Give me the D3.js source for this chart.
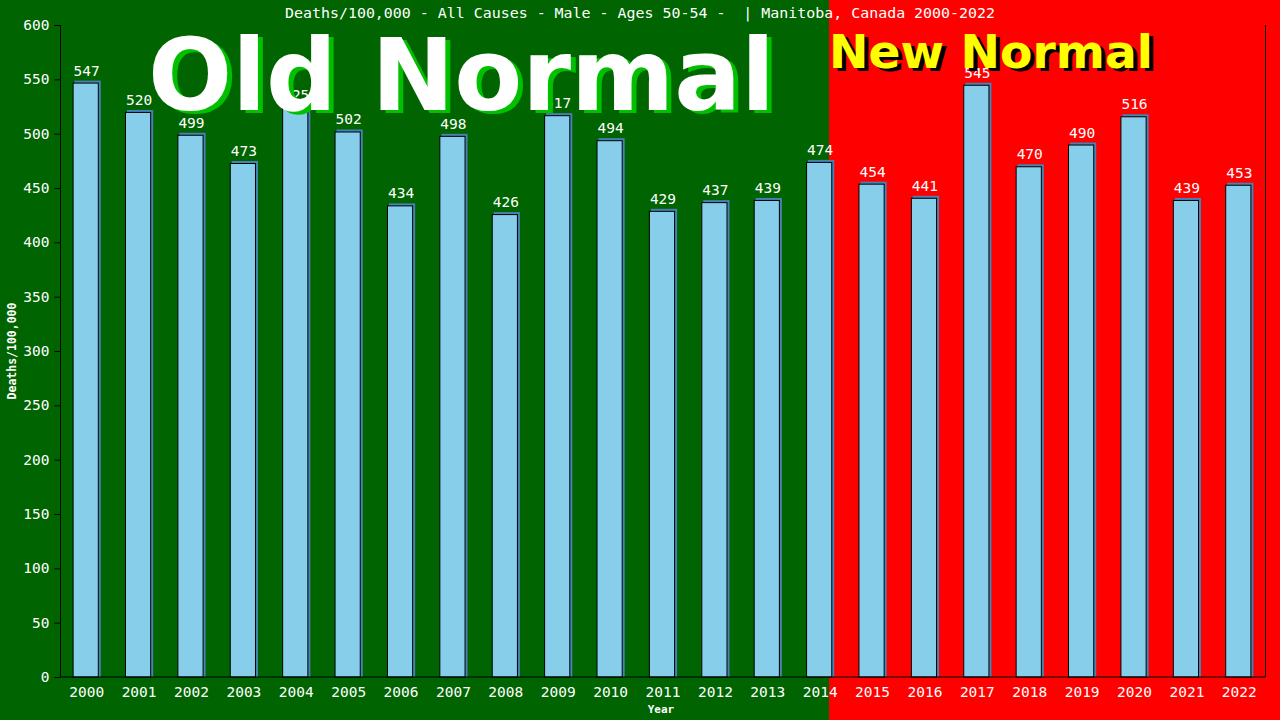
<!DOCTYPE html>
<html><head><meta charset="utf-8">
<script src="https://cdn.jsdelivr.net/npm/d3@7/dist/d3.min.js"></script>
<style>html,body{margin:0;padding:0;background:#000;}svg{display:block;}</style>
</head><body>
<svg id="c" width="1280" height="720"></svg>
<script>
const years = ["2000","2001","2002","2003","2004","2005","2006","2007","2008","2009","2010","2011","2012","2013","2014","2015","2016","2017","2018","2019","2020","2021","2022"];
const values = [547,520,499,473,525,502,434,498,426,517,494,429,437,439,474,454,441,545,470,490,516,439,453];
const yTicks = [0,50,100,150,200,250,300,350,400,450,500,550,600];
const titleText = "Deaths/100,000 - All Causes - Male - Ages 50-54 -  | Manitoba, Canada 2000-2022";
const yLabel = "Deaths/100,000";
const xLabel = "Year";
const oldLabel = "Old Normal";
const newLabel = "New Normal";
const lastOldYear = "2014";

const W = 1280, H = 720;
const m = {left: 60.5, right: 1265.5, top: 25, bottom: 677};
const mono = "'DejaVu Sans Mono', 'Liberation Mono', monospace";
const bold = "'DejaVu Sans', Verdana, sans-serif";

const svg = d3.select("#c");
const x = d3.scaleBand().domain(years).range([m.left, m.right]).paddingInner(0.5).paddingOuter(0.25);
const y = d3.scaleLinear().domain([0, 600]).range([m.bottom, m.top]);

// backgrounds
const splitX = Math.round(x(lastOldYear) + x.bandwidth() * 0.85);
svg.append("rect").attr("x", 0).attr("y", 0).attr("width", splitX).attr("height", H).attr("fill", "#006400");
svg.append("rect").attr("x", splitX).attr("y", 0).attr("width", W - splitX).attr("height", H).attr("fill", "#ff0000");

// bars
const g = svg.append("g");
g.selectAll("rect.sh").data(values).join("rect")
  .attr("x", (d, i) => x(years[i]) + 1).attr("y", d => y(d) - 2)
  .attr("width", x.bandwidth()).attr("height", d => m.bottom - y(d) + 2)
  .attr("fill", "#4682b4");
g.selectAll("rect.bar").data(values).join("rect")
  .attr("x", (d, i) => x(years[i]) - 0.5).attr("y", d => y(d) + 0.5)
  .attr("width", x.bandwidth() - 1).attr("height", d => m.bottom - y(d) - 0.5)
  .attr("fill", "#87ceeb").attr("stroke", "#000").attr("stroke-width", 1);

// value labels
g.selectAll("text.v").data(values).join("text")
  .attr("x", (d, i) => x(years[i]) + x.bandwidth() / 2)
  .attr("y", d => y(d) - 7)
  .attr("text-anchor", "middle").attr("fill", "#fff")
  .attr("font-family", mono).attr("font-size", 14.5)
  .text(d => d);

// axes
const yAxis = d3.axisLeft(y).tickValues(yTicks).tickSize(6).tickPadding(5);
const ya = svg.append("g").attr("transform", `translate(${m.left},0)`).call(yAxis);
ya.select(".domain").attr("stroke", "#000").attr("d", `M0,${m.bottom}V${m.top}`);
ya.selectAll(".tick line").attr("stroke", "#000");
ya.selectAll(".tick text").attr("fill", "#fff").attr("font-family", mono).attr("font-size", 14.5);

const xAxis = d3.axisBottom(x).tickSize(0).tickPadding(7);
const xa = svg.append("g").attr("transform", `translate(0,${m.bottom})`).call(xAxis);
xa.select(".domain").attr("stroke", "#000").attr("d", `M${m.left},0H${m.right}`);
xa.selectAll(".tick text").attr("fill", "#fff").attr("font-family", mono).attr("font-size", 14.5).attr("dy", "0.9em");

// right border
svg.append("line").attr("x1", m.right).attr("x2", m.right).attr("y1", m.top).attr("y2", m.bottom).attr("stroke", "#000");

// title
svg.append("text").attr("x", 640).attr("y", 18).attr("text-anchor", "middle")
  .attr("fill", "#fff").attr("font-family", mono).attr("font-size", 14)
  .attr("textLength", 710).attr("lengthAdjust", "spacingAndGlyphs").attr("xml:space", "preserve")
  .text(titleText);

// axis titles
svg.append("text").attr("transform", "translate(16,351) rotate(-90)").attr("text-anchor", "middle")
  .attr("fill", "#fff").attr("font-family", mono).attr("font-weight", "bold").attr("font-size", 11.5)
  .text(yLabel);
svg.append("text").attr("x", 661).attr("y", 713).attr("text-anchor", "middle")
  .attr("fill", "#fff").attr("font-family", mono).attr("font-weight", "bold").attr("font-size", 11)
  .text(xLabel);

// big overlay labels
svg.append("text").attr("x", 153).attr("y", 113).attr("fill", "#00c000")
  .attr("font-family", bold).attr("font-weight", "bold").attr("font-size", 99).text(oldLabel);
svg.append("text").attr("x", 148).attr("y", 110).attr("fill", "#fff")
  .attr("font-family", bold).attr("font-weight", "bold").attr("font-size", 99).text(oldLabel);
svg.append("text").attr("x", 833).attr("y", 71).attr("fill", "#000")
  .attr("font-family", bold).attr("font-weight", "bold").attr("font-size", 47)
  .attr("textLength", 324).attr("lengthAdjust", "spacingAndGlyphs").text(newLabel);
svg.append("text").attr("x", 829).attr("y", 68).attr("fill", "#ffff00")
  .attr("font-family", bold).attr("font-weight", "bold").attr("font-size", 47)
  .attr("textLength", 324).attr("lengthAdjust", "spacingAndGlyphs").text(newLabel);
</script>
</body></html>
